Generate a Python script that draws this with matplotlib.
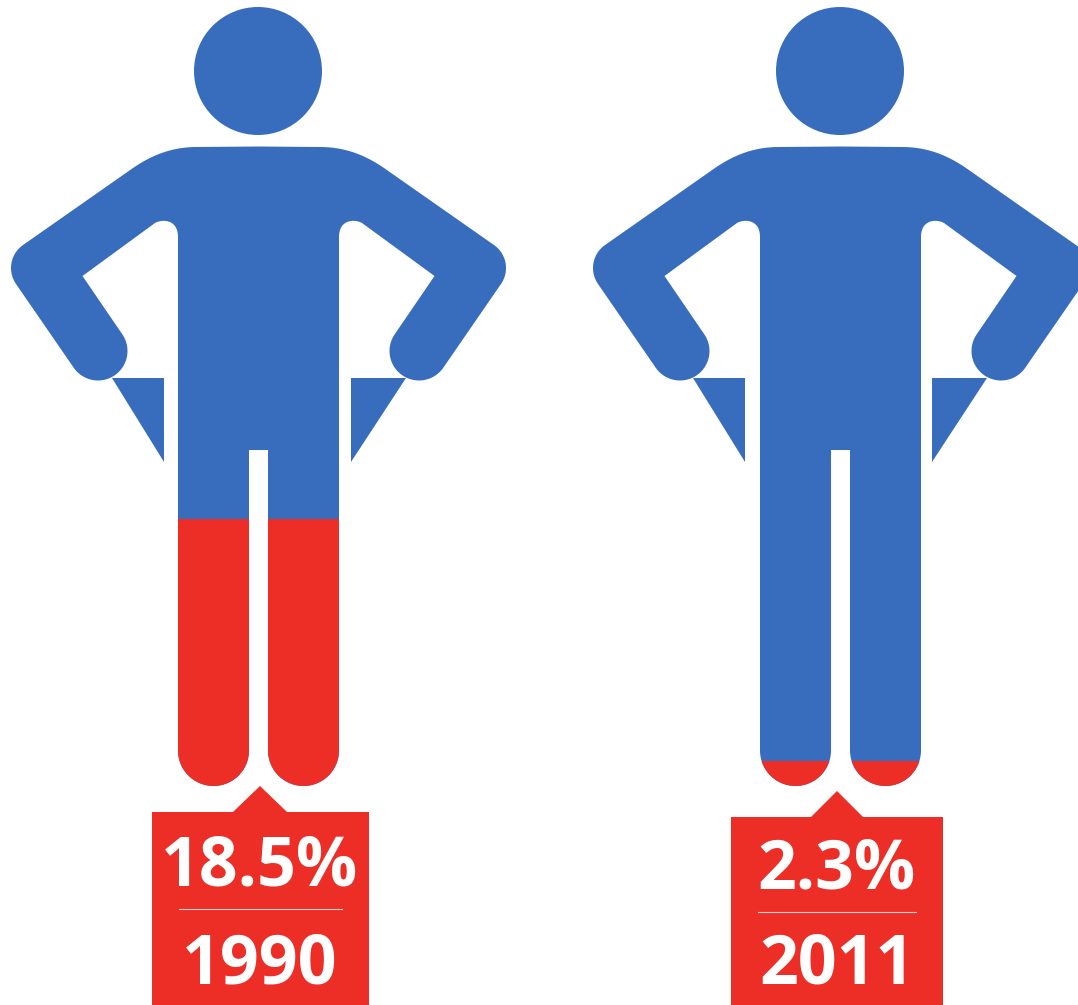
import numpy as np
import matplotlib
matplotlib.use("Agg")
import matplotlib.pyplot as plt
from matplotlib.path import Path
from matplotlib.patches import PathPatch, Polygon, Circle, Rectangle

# values
years = ["1990", "2011"]
shares = ["18.5%", "2.3%"]
fill_tops = [519, 761]
body_shift = [0, 582]
box_left = [152, 731]
box_right = [369, 943]
box_top = [812, 817]
tip = [(260, 786), (837, 791)]
tip_half = [27, 26]
rule_x = [(179, 342), (758, 916)]
rule_y = [909, 912]
share_base = [885, 888]
year_base = [983, 983]
tri_left = [[(112, 378), (164, 378), (164, 462)], [(693, 378), (745, 378), (745, 462)]]
tri_right = [[(351, 378), (406, 378), (351, 462)], [(932, 378), (987, 378), (932, 462)]]

BLUE = "#386dbd"
RED = "#ed2e27"
CX = 258.5


def arc(cx, cy, r, a0, a1, n=40):
    t = np.radians(np.linspace(a0, a1, n))
    return np.column_stack([cx + r * np.cos(t), cy + r * np.sin(t)])


def bez(p0, p1, p2, p3, n=30):
    t = np.linspace(0, 1, n)[:, None]
    p0, p1, p2, p3 = map(np.array, (p0, p1, p2, p3))
    return (1 - t) ** 3 * p0 + 3 * (1 - t) ** 2 * t * p1 + 3 * (1 - t) * t ** 2 * p2 + t ** 3 * p3


def body_path(dx):
    # left half of the outline, top centre round to the crotch
    half = np.vstack([
        [[CX, 146.5], [197, 147]],
        bez((197, 147), (172, 147), (152, 155), (133, 168)),
        arc(39, 268, 28, 235.7, 144.4),
        arc(98, 351, 29.5, 144.4, -35.6),
        [[82.5, 276], [155, 223]],
        bez((155, 223), (162, 219), (178, 219), (178, 237)),
        arc(213.5, 750.5, 35.5, 180, 0),
        [[249, 450], [CX, 450]],
    ])
    other = half[::-1].copy()
    other[:, 0] = 2 * CX - other[:, 0]
    pts = np.vstack([half, other])
    pts[:, 0] += dx
    return Path(np.vstack([pts, pts[0]]), closed=True)


fig = plt.figure(figsize=(10.78, 10.05), dpi=100)
ax = fig.add_axes([0, 0, 1, 1])
ax.set_xlim(0, 1078)
ax.set_ylim(1005, 0)
ax.axis("off")

for i in range(2):
    dx = body_shift[i]
    ax.add_patch(Circle((CX - 0.5 + dx, 71), 64, fc=BLUE, ec="none"))
    body = PathPatch(body_path(dx), fc=BLUE, ec="none")
    ax.add_patch(body)
    fill = Rectangle((dx, fill_tops[i]), 520, 300, fc=RED, ec="none")
    ax.add_patch(fill)
    fill.set_clip_path(body)
    ax.add_patch(Polygon(tri_left[i], fc=BLUE, ec="none"))
    ax.add_patch(Polygon(tri_right[i], fc=BLUE, ec="none"))

    # label box with its little arrow
    tx, ty = tip[i]
    ax.add_patch(Polygon([(box_left[i], box_top[i]), (tx - tip_half[i], box_top[i]), (tx, ty),
                          (tx + tip_half[i], box_top[i]), (box_right[i], box_top[i]),
                          (box_right[i], 1005), (box_left[i], 1005)], fc=RED, ec="none"))
    ax.plot(rule_x[i], [rule_y[i]] * 2, color="#f8d0cc", lw=0.8)
    ax.text(tx, share_base[i], shares[i], color="white", family="Open Sans", weight="bold",
            fontsize=49, ha="center", va="baseline")
    ax.text(tx, year_base[i], years[i], color="white", family="Open Sans", weight="bold",
            fontsize=49, ha="center", va="baseline")

fig.savefig("out.png", dpi=100)
plt.close()
